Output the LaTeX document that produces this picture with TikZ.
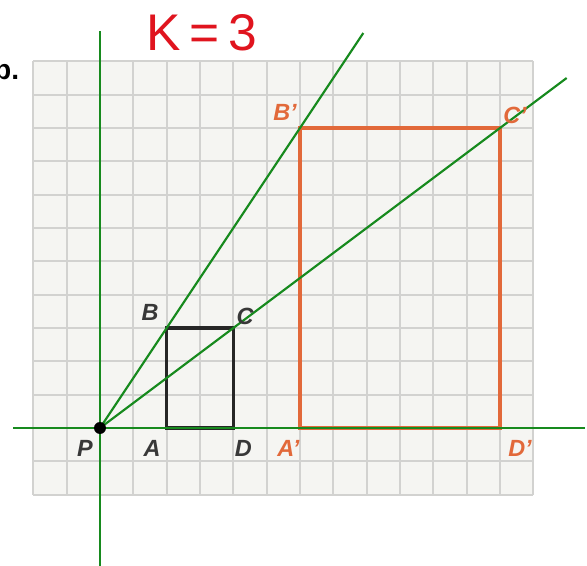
\documentclass[tikz,border=0pt]{standalone}
\usepackage{fontspec}
\setmainfont{Liberation Sans}
\usepackage{tikz}
\usetikzlibrary{positioning}

\definecolor{gridfill}{HTML}{F5F5F2}
\definecolor{gridline}{HTML}{D2D2D0}
\definecolor{axisgreen}{HTML}{178A1E}
\definecolor{imgorange}{HTML}{E2693A}
\definecolor{ptgray}{HTML}{383838}
\definecolor{penred}{HTML}{E0141E}

\begin{document}
\begin{tikzpicture}[x=1cm,y=1cm,
				ptlabel/.style={font=\fontsize{20}{20}\selectfont\bfseries\itshape, text=ptgray, inner sep=0pt},
				imglabel/.style={ptlabel, text=imgorange},
				greenline/.style={draw=axisgreen, line width=1.8pt},
				figline/.style={line width=2.6pt}]

			\useasboundingbox (-3,-4.14) rectangle (14.61,12.84);

			% grid
			\fill[gridfill] (-2,-2) rectangle (13,11);
			\draw[gridline, line width=1.5pt] (-2,-2) grid (13,11);

			% points
			\coordinate (P) at (0,0);
			\coordinate (A) at (2,0);
			\coordinate (B) at (2,3);
			\coordinate (C) at (4,3);
			\coordinate (D) at (4,0);
			\coordinate (A') at (6,0);
			\coordinate (B') at (6,9);
			\coordinate (C') at (12,9);
			\coordinate (D') at (12,0);

			% rectangles
			\draw[figline, draw=black!85] (A)--(B)--(C)--(D)--cycle;
			\draw[figline, draw=imgorange] (A')--(B')--(C')--(D')--cycle;

			% axes and rays
			\coordinate (xl) at (-2.6,0);
			\coordinate (xr) at (14.55,0);
			\coordinate (yt) at (0,11.9);
			\coordinate (yb) at (0,-4.14);
			\coordinate (rb) at (7.9,11.85);
			\coordinate (rc) at (14.0,10.5);
			\draw[greenline] (xl)--(xr);
			\draw[greenline] (yb)--(yt);
			\draw[greenline] (P)--(rb);
			\draw[greenline] (P)--(rc);
			\fill[black] (P) circle (0.18);

			% labels
			\node[ptlabel] (lP) at (-0.45,-0.6) {P};
			\node[ptlabel] (lA) at (1.56,-0.6) {A};
			\node[ptlabel] (lD) at (4.3,-0.6) {D};
			\node[ptlabel] (lB) at (1.5,3.48) {B};
			\node[ptlabel] (lC) at (4.35,3.36) {C};
			\node[imglabel] (lA') at (5.65,-0.6) {A'};
			\node[imglabel] (lD') at (12.6,-0.6) {D'};
			\node[imglabel] (lB') at (5.55,9.48) {B'};
			\node[imglabel] (lC') at (12.45,9.39) {C'};

			\node[font=\fontsize{24}{24}\selectfont\bfseries, inner sep=0pt] (part) at (-2.8,10.75) {b.};
			\node[font=\fontsize{44}{44}\selectfont, text=penred, inner sep=0pt] (k) at (3.05,11.85) {K\,=\,3};

		\end{tikzpicture}
\end{document}
